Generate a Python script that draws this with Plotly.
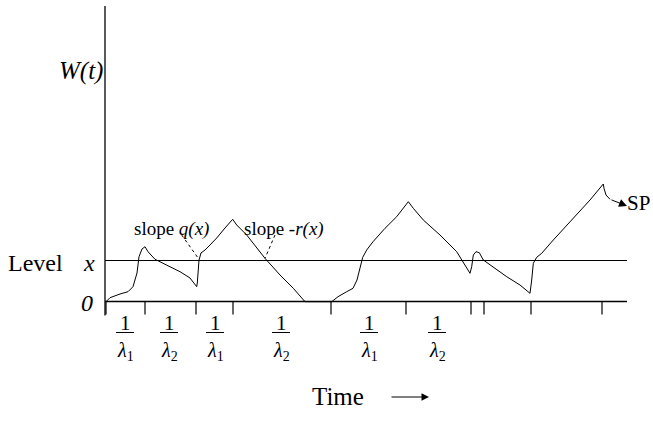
import plotly.graph_objects as go

# ---- data (time units, W units; origin at axis corner) ----
curve_px = [
    (106,301.7),(110,297.7),(120,294),(128,291.7),(133,286.7),(136,278),(137,273),(139,256.7),
    (142,249),(145,246.7),(148,251.7),(155,259.3),(166.7,265),(180,271.7),(190,278),(196.7,286.7),
    (197.3,283),(198.3,270),(199,260),(201,253),(205,250),(210,245),(216.7,238),(225,228),(232.7,219.3),
    (236.7,225),(246.7,235),(265,258.3),(280,275),(293.3,288.3),(305,301.7),(331.7,301.7),
    (338,296.7),(346.7,291.7),(353,288.3),(357,280),(360,268),(362.7,257.3),(366.7,250),(373,241.7),
    (385,228.3),(396.7,216.7),(408.3,201.7),(413.3,208.3),(423.3,220),(440,235),(456.7,251.7),(470,273.3),
    (471.7,266.7),(473.3,255),(476,251.7),(479.3,252.7),(483.3,260),(490,265),(506.7,276.7),(520,285),(530,293.3),
    (531.7,280),(533.3,263.3),(536.7,257.3),(541.7,253.3),(553.3,240),(573.3,218.3),(590,200),(603.3,184),
    (604,188.3),(606,195),(610,199.3),
]
X0, Y0 = 105, 301.5
time_vals = [round(px - X0, 1) for px, py in curve_px]
w_vals = [round(Y0 - py, 1) for px, py in curve_px]

tick_times = [1, 40, 91, 128, 226, 301, 366, 379, 426, 497]
frac_times = [20, 64, 110, 176, 264, 332]
frac_labels = ["<i>λ</i><sub>1</sub>", "<i>λ</i><sub>2</sub>", "<i>λ</i><sub>1</sub>",
               "<i>λ</i><sub>2</sub>", "<i>λ</i><sub>1</sub>", "<i>λ</i><sub>2</sub>"]
level_x = 41
t_end = 522
w_top = 295.5

FONT = "Liberation Serif"
fig = go.Figure()

# axes
fig.add_trace(go.Scatter(x=[0, 0], y=[-14, w_top], mode="lines", line=dict(color="black", width=1.3), hoverinfo="skip"))
fig.add_trace(go.Scatter(x=[0, t_end], y=[0, 0], mode="lines", line=dict(color="black", width=1.3), hoverinfo="skip"))
fig.add_trace(go.Scatter(x=[0, t_end], y=[level_x, level_x], mode="lines", line=dict(color="black", width=1.2), hoverinfo="skip"))
# ticks
tx, ty = [], []
for t in tick_times:
    tx += [t, t, None]
    ty += [0, -13, None]
fig.add_trace(go.Scatter(x=tx, y=ty, mode="lines", line=dict(color="black", width=1.2), hoverinfo="skip"))
# curve
fig.add_trace(go.Scatter(x=time_vals, y=w_vals, mode="lines", line=dict(color="black", width=1), hoverinfo="skip"))

# slope dashed pointers
fig.add_trace(go.Scatter(x=[181.7 - X0, 198.3 - X0], y=[Y0 - 235, Y0 - 258.3], mode="lines",
                         line=dict(color="black", width=1, dash="dot"), hoverinfo="skip"))
fig.add_trace(go.Scatter(x=[275 - X0, 265 - X0], y=[Y0 - 235, Y0 - 258.3], mode="lines",
                         line=dict(color="black", width=1, dash="dot"), hoverinfo="skip"))

ann = []
def txt(x, y, s, size=22, xanchor="center"):
    ann.append(dict(x=x, y=y, text=s, showarrow=False, xref="x", yref="y", xanchor=xanchor, yanchor="middle",
                    borderpad=0, font=dict(family=FONT, size=size, color="black")))

txt(-24, Y0 - 71, "<i>W(t)</i>", 25)
txt(-70, level_x - 2, "Level", 24)
txt(-16, level_x - 2, "<i>x</i>", 24)
txt(-18, -1, "<i>0</i>", 24)
txt(133 - X0, Y0 - 229, "slope <i>q(x)</i>", 19, "left")
txt(243 - X0, Y0 - 229, "slope -<i>r(x)</i>", 19, "left")
txt(651 - X0, Y0 - 203, "SP", 21, "right")
txt(338 - X0, Y0 - 396, "Time", 25)

for t, lab in zip(frac_times, frac_labels):
    txt(t, Y0 - 323, "1", 21)
    txt(t, Y0 - 351, lab, 20)
    fig.add_shape(type="line", x0=t - 9, x1=t + 9, y0=Y0 - 332.5, y1=Y0 - 332.5, line=dict(color="black", width=1))

# SP arrow
ann.append(dict(x=627 - X0, y=Y0 - 206, ax=610 - X0, ay=Y0 - 199.3, xref="x", yref="y", axref="x", ayref="y",
                showarrow=True, arrowhead=2, arrowsize=1.6, arrowwidth=1, arrowcolor="black", text="",
                font=dict(family=FONT, size=12)))
# Time arrow
ann.append(dict(x=429 - X0, y=Y0 - 397, ax=390 - X0, ay=Y0 - 397, xref="x", yref="y", axref="x", ayref="y",
                showarrow=True, arrowhead=2, arrowsize=1.5, arrowwidth=1, arrowcolor="black", text="",
                font=dict(family=FONT, size=12)))

fig.update_layout(
    width=653, height=422, margin=dict(l=0, r=0, t=0, b=0),
    paper_bgcolor="white", plot_bgcolor="white", showlegend=False,
    xaxis=dict(range=[-X0, 653 - X0], visible=False, fixedrange=True),
    yaxis=dict(range=[Y0 - 422, Y0], visible=False, fixedrange=True),
    annotations=ann,
)
fig.write_html("out.html")
